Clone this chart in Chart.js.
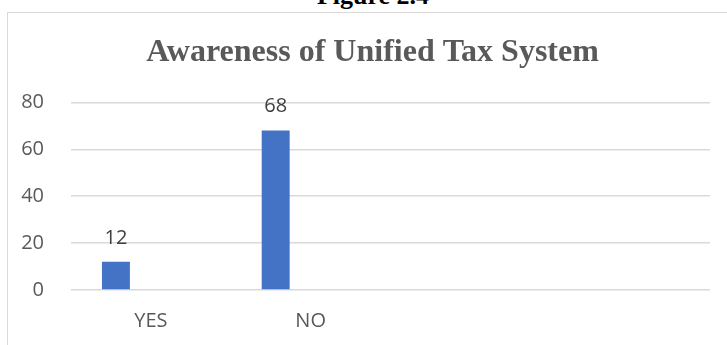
<!DOCTYPE html>
<html>
<head>
<meta charset="utf-8">
<script src="https://cdn.jsdelivr.net/npm/chart.js@4/dist/chart.umd.min.js"></script>
<style>
  html, body { margin:0; padding:0; width:727px; height:345px; overflow:hidden; background:#fff; }
  #fig { position:absolute; left:0; width:746px; top:-17px; text-align:center; font:bold 26px "Liberation Serif", "Times New Roman", serif; line-height:26px; color:#000; }
  #box { position:absolute; left:7px; top:12px; width:740px; height:345px; border:1px solid #d9d9d9; box-sizing:border-box; }
  #wrap { position:absolute; left:7px; top:12px; width:731px; height:333px; }
</style>
</head>
<body>
<div id="fig">Figure 2.4</div>
<div id="box"></div>
<div id="wrap"><canvas id="c"></canvas></div>
<script>
const categories = ['YES', 'NO', '', ''];
const responses = [12, 68, null, null];
const emptySeries = [null, null, null, null];
const yTicks = [0, 20, 40, 60, 80];
const chartTitle = 'Awareness of Unified Tax System';

const valueLabels = {
  id: 'valueLabels',
  afterDatasetsDraw(chart) {
    const ctx = chart.ctx;
    const meta = chart.getDatasetMeta(0);
    ctx.save();
    ctx.font = '20px "Open Sans", sans-serif';
    ctx.fillStyle = '#404040';
    ctx.textAlign = 'center';
    ctx.textBaseline = 'middle';
    meta.data.forEach((bar, i) => {
      const v = chart.data.datasets[0].data[i];
      if (v === null || v === undefined) return;
      ctx.fillText(String(v), bar.x, bar.y - 24);
    });
    ctx.restore();
  }
};

new Chart(document.getElementById('c'), {
  type: 'bar',
  data: {
    labels: categories,
    datasets: [
      { label: 'Responses', data: responses, backgroundColor: '#4472C4', categoryPercentage: 0.875, barPercentage: 0.4 },
      { label: '', data: emptySeries, backgroundColor: '#ED7D31', categoryPercentage: 0.875, barPercentage: 0.4 }
    ]
  },
  options: {
    responsive: true,
    maintainAspectRatio: false,
    animation: false,
    layout: { padding: 0 },
    plugins: {
      legend: { display: false },
      tooltip: { enabled: false },
      title: {
        display: true,
        text: chartTitle,
        color: '#595959',
        font: { family: '"Liberation Serif", "Times New Roman", serif', size: 32, weight: 'bold' },
        padding: { top: 22, bottom: 30 }
      }
    },
    scales: {
      x: {
        grid: { display: false, drawTicks: false },
        border: { display: false },
        ticks: { color: '#595959', font: { family: '"Open Sans", sans-serif', size: 20 }, padding: 19 },
        afterFit(s) { s.height = 55; }
      },
      y: {
        min: 0, max: 80,
        afterBuildTicks(s) { s.ticks = yTicks.map(v => ({ value: v })); },
        grid: { color: '#d9d9d9', lineWidth: 1.5, drawTicks: false },
        border: { display: false },
        ticks: { color: '#595959', font: { family: '"Open Sans", sans-serif', size: 20 }, padding: 27 },
        afterFit(s) { s.width = 64; }
      },
      yRight: {
        type: 'linear',
        position: 'right',
        min: 0, max: 80,
        grid: { display: false, drawTicks: false },
        border: { display: false },
        ticks: { display: false },
        afterFit(s) { s.width = 28; }
      }
    }
  },
  plugins: [valueLabels]
});
</script>
</body>
</html>
